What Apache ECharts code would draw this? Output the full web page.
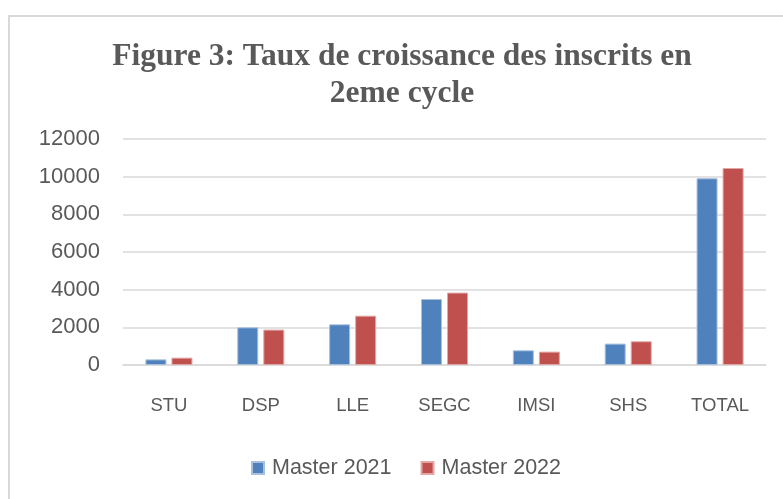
<!DOCTYPE html>
<html>
<head>
<meta charset="UTF-8">
<title>Figure 3</title>
<script src="https://cdn.jsdelivr.net/npm/echarts@6/dist/echarts.min.js"></script>
<style>
  html, body { margin: 0; padding: 0; background: #fff; }
  #main { width: 783px; height: 499px; }
</style>
</head>
<body>
<div id="main"></div>
<script>
// donnees
var categories = ['STU', 'DSP', 'LLE', 'SEGC', 'IMSI', 'SHS', 'TOTAL'];
var master2021 = [300, 2000, 2160, 3505, 780, 1135, 9915];
var master2022 = [390, 1880, 2620, 3845, 710, 1260, 10460];
var yTicks = [0, 2000, 4000, 6000, 8000, 10000, 12000];

var chart = echarts.init(document.getElementById('main'));

var option = {
    animation: false,
    backgroundColor: '#fff',
    title: {
        text: 'Figure 3: Taux de croissance des inscrits en\n2eme cycle',
        left: 397,
        textAlign: 'center',
        top: 33,
        textStyle: {
            fontFamily: 'Liberation Serif',
            fontWeight: 'bold',
            fontSize: 31.5,
            color: '#595959',
            lineHeight: 37
        }
    },
    graphic: [{
        type: 'rect',
        shape: { x: 9, y: 16, width: 900, height: 600 },
        style: { fill: 'none', stroke: '#d9d9d9', lineWidth: 2 },
        silent: true
    }],
    legend: {
        bottom: 15,
        left: 246,
        itemWidth: 12,
        itemHeight: 12,
        itemGap: 29,
        icon: 'rect',
        textStyle: {
            fontFamily: 'Liberation Sans',
            fontSize: 21.5,
            color: '#595959',
            padding: [0, 0, 0, 3]
        },
        data: ['Master 2021', 'Master 2022']
    },
    grid: {
        left: 123,
        right: 17,
        top: 139,
        bottom: 134
    },
    xAxis: {
        type: 'category',
        data: categories,
        axisTick: { show: false },
        axisLine: { lineStyle: { color: '#d9d9d9', width: 1.5 } },
        axisLabel: {
            fontFamily: 'Liberation Sans',
            fontSize: 18.5,
            color: '#595959',
            margin: 31
        }
    },
    yAxis: {
        type: 'value',
        min: yTicks[0],
        max: yTicks[yTicks.length - 1],
        interval: 2000,
        axisLine: { show: false },
        axisTick: { show: false },
        splitLine: { lineStyle: { color: '#d9d9d9', width: 1.5 } },
        axisLabel: {
            fontFamily: 'Liberation Sans',
            fontSize: 22,
            color: '#595959',
            margin: 23,
            formatter: function (v) { return String(v); }
        }
    },
    series: [
        {
            name: 'Master 2021',
            type: 'bar',
            data: master2021,
            barWidth: 21,
            barGap: '24%',
            itemStyle: { color: '#4f81bd', borderColor: '#a7c0de', borderWidth: 1 }
        },
        {
            name: 'Master 2022',
            type: 'bar',
            data: master2022,
            barWidth: 21,
            itemStyle: { color: '#c0504d', borderColor: '#dfa8a6', borderWidth: 1 }
        }
    ]
};

chart.setOption(option);
</script>
</body>
</html>
